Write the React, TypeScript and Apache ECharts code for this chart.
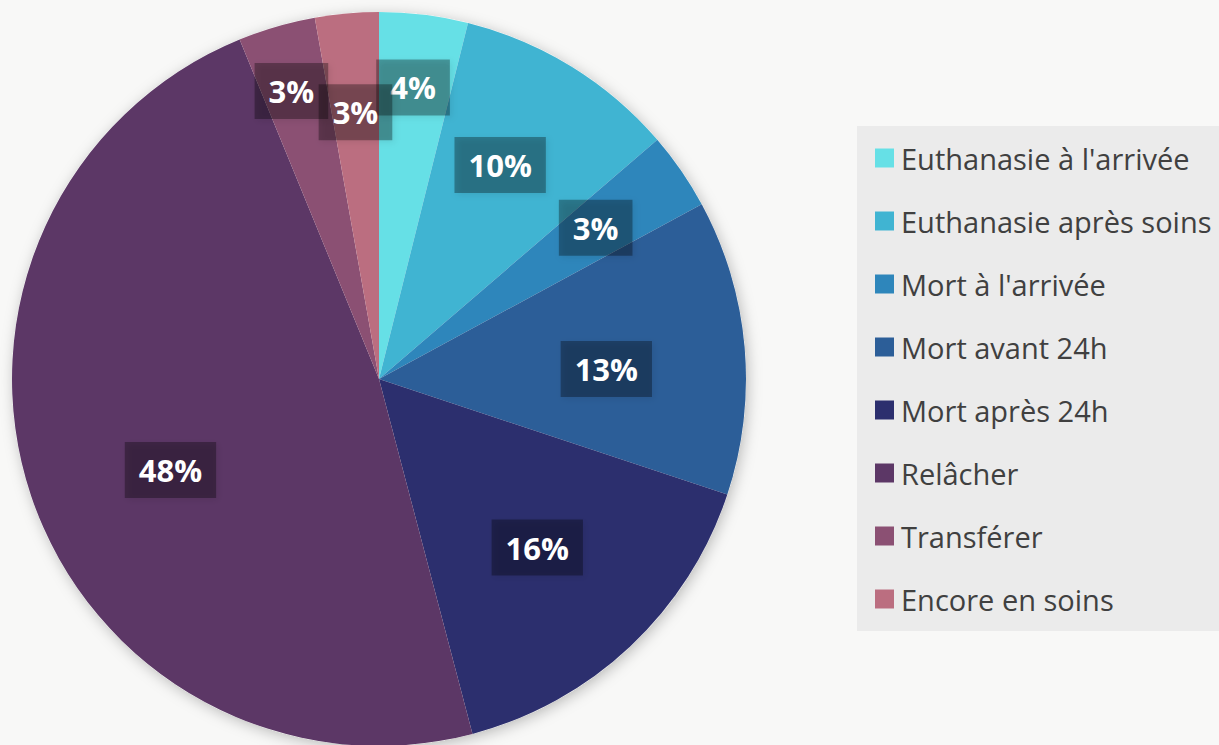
import React, { useEffect, useRef } from "react";
import * as echarts from "echarts";

const categories = [
  "Euthanasie à l'arrivée",
  "Euthanasie après soins",
  "Mort à l'arrivée",
  "Mort avant 24h",
  "Mort après 24h",
  "Relâcher",
  "Transférer",
  "Encore en soins",
];
const values = [3.9, 9.8, 3.4, 13.0, 15.8, 47.9, 3.4, 2.8];
const colors = ["#66e0e6", "#40b4d2", "#2e86bb", "#2c5e98", "#2c2f6e", "#5c3766", "#8b5073", "#bb6e80"];

// label placement style settings (fraction of radius, angular nudge in % of the circle)
const labelRadiusFrac = [0.8, 0.67, 0.72, 0.62, 0.63, 0.62, 0.82, 0.73];
const labelAngleShift = [-0.1, -0.6, -0.1, 0.7, 0, -1.4, -0.2, 0];

const CX = 379;
const CY = 379;
const R = 367;

export default function App() {
  const ref = useRef<HTMLDivElement>(null);
  useEffect(() => {
    if (!ref.current) return;
    const chart = echarts.init(ref.current, null, { renderer: "svg" });
    const total = values.reduce((a, b) => a + b, 0);
    const cum: number[] = [];
    let acc = 0;
    values.forEach((v) => {
      cum.push(acc + v / 2);
      acc += v;
    });
    chart.setOption({
      animation: false,
      backgroundColor: "#f8f8f7",
      color: colors,
      graphic: [
        {
          type: "circle",
          shape: { cx: CX, cy: CY, r: R },
          style: { fill: "#f8f8f7", shadowBlur: 14, shadowColor: "rgba(0,0,0,0.25)", shadowOffsetX: 2, shadowOffsetY: 3 },
          z: 0,
          silent: true,
        },
      ],
      legend: {
        orient: "vertical",
        left: 857,
        top: 126,
        backgroundColor: "#ebebeb",
        padding: [17, 40, 17, 18],
        itemWidth: 19,
        itemHeight: 19,
        itemGap: 33,
        icon: "rect",
        textStyle: {
          fontFamily: "Open Sans",
          fontSize: 29,
          color: "#404040",
          lineHeight: 30,
          padding: [0, 0, 0, 2],
        },
        data: categories,
      },
      series: [
        {
          type: "pie",
          center: [CX, CY],
          radius: [0, R],
          startAngle: 90,
          clockwise: true,
          data: categories.map((name, i) => ({ name, value: values[i] })),
          itemStyle: { borderWidth: 0 },
          label: {
            show: true,
            position: "inside",
            formatter: (p: any) => Math.round(p.percent) + "%",
            fontFamily: "Open Sans",
            fontWeight: "bold",
            fontSize: 31,
            color: "#ffffff",
            backgroundColor: "rgba(0,0,0,0.32)",
            padding: [12, 14, 12, 14],
            lineHeight: 32,
            shadowColor: "rgba(0,0,0,0.25)",
            shadowBlur: 6,
            shadowOffsetX: 2,
            shadowOffsetY: 2,
            align: "center",
            verticalAlign: "middle",
          },
          labelLine: { show: false },
          labelLayout: (params: any) => {
            const i = params.dataIndex;
            const frac = (cum[i] / total) + labelAngleShift[i] / 100;
            const ang = frac * Math.PI * 2;
            const r = R * labelRadiusFrac[i];
            return {
              x: CX + r * Math.sin(ang),
              y: CY - r * Math.cos(ang),
              align: "center",
              verticalAlign: "middle",
            };
          },
          emphasis: { disabled: true },
        },
      ],
    });
    return () => chart.dispose();
  }, []);
  return (
    <div
      ref={ref}
      style={{ position: "fixed", left: 0, top: 0, width: 1219, height: 745 }}
    />
  );
}
